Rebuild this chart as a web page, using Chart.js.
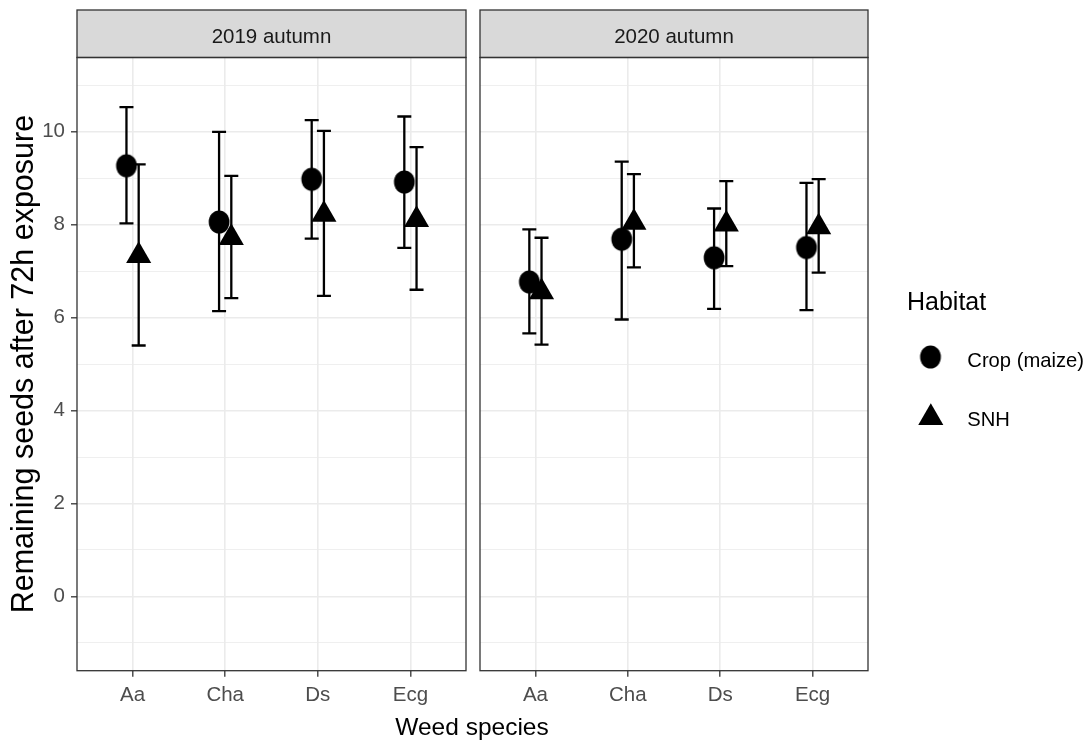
<!DOCTYPE html>
<html lang="en">
<head>
  <meta charset="UTF-8">
  <title>Remaining seeds after 72h exposure</title>
  <script src="https://cdn.jsdelivr.net/npm/chart.js@4"></script>
  <style>
    html, body { margin: 0; padding: 0; background: #fff; }
    #wrap { position: relative; width: 1089px; height: 745px; overflow: hidden; }
    #wrap canvas { position: absolute; left: 0; top: 0; }
  </style>
</head>
<body>
  <div id="wrap">
    <canvas id="chart2019" width="1089" height="745"></canvas>
    <canvas id="chart2020" width="1089" height="745"></canvas>
  </div>

  <script>
    // values
    const species = ['Aa', 'Cha', 'Ds', 'Ecg'];
    const habitats = ['Crop (maize)', 'SNH'];
    const panels = ['2019 autumn', '2020 autumn'];
    const yTicks = [-1, 0, 1, 2, 3, 4, 5, 6, 7, 8, 9, 10, 11];

    const crop2019 = [9.27, 8.06, 8.98, 8.92];
    const crop2019Lo = [8.03, 6.14, 7.70, 7.50];
    const crop2019Hi = [10.53, 10.00, 10.25, 10.33];
    const snh2019 = [7.33, 7.72, 8.22, 8.11];
    const snh2019Lo = [5.40, 6.42, 6.47, 6.60];
    const snh2019Hi = [9.30, 9.05, 10.02, 9.67];

    const crop2020 = [6.77, 7.69, 7.29, 7.51];
    const crop2020Lo = [5.66, 5.96, 6.19, 6.16];
    const crop2020Hi = [7.90, 9.36, 8.35, 8.90];
    const snh2020 = [6.55, 8.05, 8.01, 7.95];
    const snh2020Lo = [5.42, 7.08, 7.11, 6.97];
    const snh2020Hi = [7.72, 9.09, 8.94, 8.98];

    const dodge = 0.066;
    const font = '"Liberation Sans", Arial, sans-serif';

    // the dots in the figure are a little taller than wide
    const dot = document.createElement('canvas');
    dot.width = 24;
    dot.height = 26;
    (function () {
      const c = dot.getContext('2d');
      c.fillStyle = '#000';
      c.beginPath();
      c.ellipse(12, 13, 10.4, 11.6, 0, 0, Math.PI * 2);
      c.fill();
    })();

    function points(vals, lo, hi, shift) {
      return vals.map((v, i) => ({ x: i + 1 + shift, y: v, lo: lo[i], hi: hi[i] }));
    }

    function datasets(crop, cropLo, cropHi, snh, snhLo, snhHi) {
      return [
        {
          label: habitats[0],
          data: points(crop, cropLo, cropHi, -dodge),
          pointStyle: dot,
          pointRadius: 11,
          backgroundColor: '#000',
          borderWidth: 0,
          showLine: false
        },
        {
          label: habitats[1],
          data: points(snh, snhLo, snhHi, dodge),
          pointStyle: 'triangle',
          pointRadius: 14.5,
          backgroundColor: '#000',
          borderWidth: 0,
          showLine: false
        }
      ];
    }

    const facetPlugin = {
      id: 'facet',
      beforeDatasetsDraw(chart) {
        const { ctx, scales: { x, y } } = chart;
        ctx.save();
        ctx.strokeStyle = '#000';
        ctx.lineWidth = 2.3;
        chart.data.datasets.forEach(ds => {
          ds.data.forEach(p => {
            const px = x.getPixelForValue(p.x);
            const top = y.getPixelForValue(p.hi);
            const bot = y.getPixelForValue(p.lo);
            ctx.beginPath();
            ctx.moveTo(px, top); ctx.lineTo(px, bot);
            ctx.moveTo(px - 7, top); ctx.lineTo(px + 7, top);
            ctx.moveTo(px - 7, bot); ctx.lineTo(px + 7, bot);
            ctx.stroke();
          });
        });
        ctx.restore();
      },
      afterDraw(chart) {
        const { ctx, chartArea: a } = chart;
        const opts = chart.options.plugins.facet;
        ctx.save();
        // strip
        ctx.fillStyle = '#D9D9D9';
        ctx.fillRect(a.left, 10, a.right - a.left, a.top - 10);
        ctx.strokeStyle = '#333333';
        ctx.lineWidth = 1.3;
        ctx.strokeRect(a.left, 10, a.right - a.left, a.top - 10);
        ctx.fillStyle = '#1A1A1A';
        ctx.font = '20.5px ' + font;
        ctx.textAlign = 'center';
        ctx.textBaseline = 'alphabetic';
        ctx.fillText(opts.strip, (a.left + a.right) / 2, 43.3);
        // panel border
        ctx.strokeRect(a.left, a.top, a.right - a.left, a.bottom - a.top);
        ctx.restore();
      }
    };

    // x title and legend live on the second canvas
    const guidePlugin = {
      id: 'guides',
      afterDraw(chart) {
        const ctx = chart.ctx;
        ctx.save();
        ctx.fillStyle = '#000';
        ctx.textBaseline = 'alphabetic';
        ctx.font = '24.5px ' + font;
        ctx.textAlign = 'center';
        ctx.fillText('Weed species', 472, 735);

        ctx.textAlign = 'left';
        ctx.font = '25px ' + font;
        ctx.fillText('Habitat', 907, 310);

        const keys = [
          { style: dot, r: 11, x: 930.5, y: 357, baseline: 366.5 },
          { style: 'triangle', r: 14.5, x: 930.8, y: 417.8, baseline: 425.7 }
        ];
        ctx.font = '20.2px ' + font;
        keys.forEach((key, i) => {
          ctx.fillStyle = '#000';
          Chart.helpers.drawPoint(ctx, { pointStyle: key.style, radius: key.r, rotation: 0, borderWidth: 0 }, key.x, key.y);
          ctx.fillText(habitats[i], 967.3, key.baseline);
        });
        ctx.restore();
      }
    };

    function makeOptions(first, stripText) {
      return {
        responsive: false,
        animation: false,
        devicePixelRatio: 1,
        layout: {
          padding: first ? { top: 57.5, left: 0, right: 1089 - 466, bottom: 0 }
                         : { top: 57.5, left: 480, right: 1089 - 868, bottom: 0 }
        },
        scales: {
          x: {
            type: 'linear',
            min: 0.4,
            max: 4.6,
            afterBuildTicks: s => { s.ticks = species.map((_, i) => ({ value: i + 1 })); },
            afterFit: s => { s.height = 745 - 670.7; },
            border: { display: false },
            grid: {
              color: '#EBEBEB',
              lineWidth: 1.6,
              tickColor: '#333333',
              tickWidth: 1.3,
              tickLength: 6
            },
            ticks: {
              callback: v => species[v - 1],
              color: '#4D4D4D',
              font: { family: font, size: 20.5 },
              padding: 6,
              maxRotation: 0,
              autoSkip: false
            }
          },
          y: {
            type: 'linear',
            min: -1.6,
            max: 11.6,
            afterBuildTicks: s => { s.ticks = yTicks.map(v => ({ value: v })); },
            afterFit: s => { s.width = first ? 77 : 0; },
            border: { display: false },
            grid: {
              color: '#EBEBEB',
              lineWidth: c => (c.tick && c.tick.value % 2 === 0) ? 1.6 : 0.8,
              tickColor: c => (c.tick && c.tick.value % 2 === 0) ? '#333333' : 'rgba(0,0,0,0)',
              tickWidth: 1.3,
              tickLength: 6,
              drawTicks: first
            },
            ticks: {
              display: first,
              callback: v => (v % 2 === 0 ? String(v) : ''),
              color: '#4D4D4D',
              font: { family: font, size: 20.5 },
              padding: 6,
              autoSkip: false
            },
            title: {
              display: first,
              text: 'Remaining seeds after 72h exposure',
              color: '#000',
              font: { family: font, size: 30.5 },
              padding: { top: 6, bottom: 0 }
            }
          }
        },
        plugins: {
          legend: { display: false },
          tooltip: { enabled: false },
          facet: { strip: stripText }
        }
      };
    }

    const chart2019 = new Chart(document.getElementById('chart2019').getContext('2d'), {
      type: 'scatter',
      data: { datasets: datasets(crop2019, crop2019Lo, crop2019Hi, snh2019, snh2019Lo, snh2019Hi) },
      options: makeOptions(true, panels[0]),
      plugins: [facetPlugin]
    });

    const chart2020 = new Chart(document.getElementById('chart2020').getContext('2d'), {
      type: 'scatter',
      data: { datasets: datasets(crop2020, crop2020Lo, crop2020Hi, snh2020, snh2020Lo, snh2020Hi) },
      options: makeOptions(false, panels[1]),
      plugins: [facetPlugin, guidePlugin]
    });
  </script>
</body>
</html>
